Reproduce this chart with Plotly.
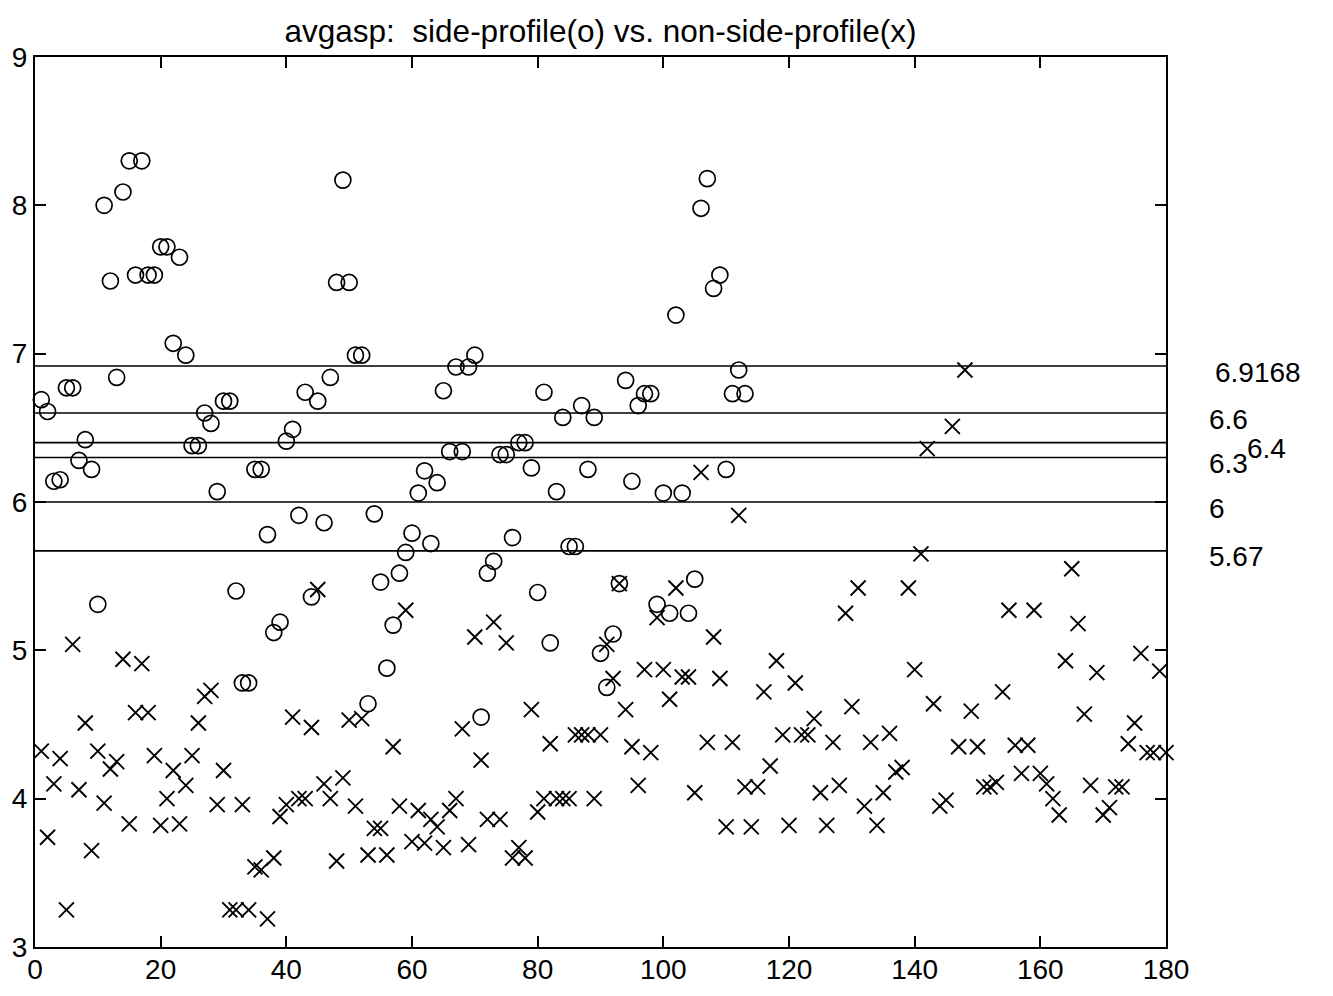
import plotly.graph_objects as go

# side-profile (circles), index 1..113
side_idx = list(range(1, 114))
side_vals = [
    6.69, 6.61, 6.14, 6.15, 6.77, 6.77, 6.28, 6.42, 6.22, 5.31,
    8.00, 7.49, 6.84, 8.09, 8.30, 7.53, 8.30, 7.53, 7.53, 7.72,
    7.72, 7.07, 7.65, 6.99, 6.38, 6.38, 6.60, 6.53, 6.07, 6.68,
    6.68, 5.40, 4.78, 4.78, 6.22, 6.22, 5.78, 5.12, 5.19, 6.41,
    6.49, 5.91, 6.74, 5.36, 6.68, 5.86, 6.84, 7.48, 8.17, 7.48,
    6.99, 6.99, 4.64, 5.92, 5.46, 4.88, 5.17, 5.52, 5.66, 5.79,
    6.06, 6.21, 5.72, 6.13, 6.75, 6.34, 6.91, 6.34, 6.91, 6.99,
    4.55, 5.52, 5.60, 6.32, 6.32, 5.76, 6.40, 6.40, 6.23, 5.39,
    6.74, 5.05, 6.07, 6.57, 5.70, 5.70, 6.65, 6.22, 6.57, 4.98,
    4.75, 5.11, 5.45, 6.82, 6.14, 6.65, 6.73, 6.73, 5.31, 6.06,
    5.25, 7.26, 6.06, 5.25, 5.48, 7.98, 8.18, 7.44, 7.53, 6.22,
    6.73, 6.89, 6.73,
]

# non-side-profile (crosses), index 1..180
non_idx = list(range(1, 181))
non_vals = [
    4.32, 3.74, 4.10, 4.27, 3.25, 5.04, 4.06, 4.51, 3.65, 4.32,
    3.97, 4.20, 4.25, 4.94, 3.83, 4.58, 4.91, 4.58, 4.29, 3.82,
    4.00, 4.19, 3.83, 4.09, 4.29, 4.51, 4.69, 4.73, 3.96, 4.19,
    3.25, 3.25, 3.96, 3.25, 3.54, 3.52, 3.19, 3.60, 3.88, 3.96,
    4.55, 4.00, 4.00, 4.48, 5.41, 4.10, 4.00, 3.58, 4.14, 4.53,
    3.95, 4.54, 3.62, 3.80, 3.80, 3.62, 4.35, 3.95, 5.27, 3.71,
    3.92, 3.70, 3.86, 3.81, 3.67, 3.92, 4.00, 4.47, 3.69, 5.09,
    4.26, 3.86, 5.19, 3.86, 5.05, 3.60, 3.67, 3.60, 4.60, 3.91,
    4.00, 4.37, 4.00, 4.00, 4.00, 4.43, 4.43, 4.43, 4.00, 4.43,
    5.04, 4.81, 5.45, 4.60, 4.35, 4.09, 4.87, 4.31, 5.22, 4.87,
    4.67, 5.42, 4.82, 4.82, 4.04, 6.20, 4.38, 5.09, 4.81, 3.81,
    4.38, 5.91, 4.08, 3.81, 4.08, 4.72, 4.22, 4.93, 4.43, 3.82,
    4.78, 4.43, 4.43, 4.54, 4.04, 3.82, 4.38, 4.09, 5.25, 4.62,
    5.42, 3.95, 4.38, 3.82, 4.04, 4.44, 4.18, 4.21, 5.42, 4.87,
    5.65, 6.36, 4.64, 3.95, 3.99, 6.51, 4.35, 6.89, 4.59, 4.35,
    4.08, 4.08, 4.11, 4.72, 5.27, 4.36, 4.17, 4.36, 5.27, 4.17,
    4.10, 4.00, 3.89, 4.93, 5.55, 5.18, 4.57, 4.09, 4.85, 3.89,
    3.94, 4.08, 4.08, 4.37, 4.51, 4.98, 4.31, 4.31, 4.86, 4.31,
]

# threshold lines and their labels
thresholds = [6.9168, 6.6, 6.4, 6.3, 6.0, 5.67]
threshold_labels = ["6.9168", "6.6", "6.4", "6.3", "6", "5.67"]
label_xpaper = [1.0416, 1.0363, 1.0698, 1.0363, 1.0363, 1.0363]

x_range = [0, 180]
y_range = [3, 9]
x_ticks = [0, 20, 40, 60, 80, 100, 120, 140, 160, 180]
y_ticks = [3, 4, 5, 6, 7, 8, 9]

FONT = "Liberation Sans, Arial, Helvetica, sans-serif"
TICK_SIZE = 28

fig = go.Figure()

for t in thresholds:
    fig.add_trace(go.Scatter(
        x=x_range, y=[t, t], mode="lines",
        line=dict(color="black", width=1.7),
        showlegend=False, hoverinfo="skip"))

fig.add_trace(go.Scatter(
    x=side_idx, y=side_vals, mode="markers",
    marker=dict(symbol="circle-open", size=16, color="black",
                line=dict(color="black", width=1.7)),
    showlegend=False, cliponaxis=False))

fig.add_trace(go.Scatter(
    x=non_idx, y=non_vals, mode="markers",
    marker=dict(symbol="x-thin-open", size=15, color="black",
                line=dict(color="black", width=1.9)),
    showlegend=False, cliponaxis=False))

for t, lab, xp in zip(thresholds, threshold_labels, label_xpaper):
    fig.add_annotation(
        x=xp, xref="paper", y=t, yref="y", text=lab, showarrow=False,
        xanchor="left", yanchor="middle", yshift=-6,
        font=dict(family=FONT, size=TICK_SIZE, color="black"))

fig.update_layout(
    width=1333, height=996,
    margin=dict(l=35, r=167, t=57, b=49, autoexpand=False),
    paper_bgcolor="white", plot_bgcolor="white",
    font=dict(family=FONT, size=TICK_SIZE, color="black"),
    title=dict(text="avgasp:  side-profile(o) vs. non-side-profile(x)",
               x=0.4505, xanchor="center", y=1 - 31 / 996, yanchor="middle",
               yref="container", automargin=False,
               font=dict(family=FONT, size=31.5, color="black")),
    showlegend=False,
)

fig.update_xaxes(
    range=x_range, tickvals=x_ticks, ticks="inside", ticklen=11, tickwidth=1.7,
    tickcolor="black", showline=True, linecolor="black", linewidth=2,
    mirror="ticks", showgrid=False, zeroline=False, automargin=False,
    ticklabelstandoff=-4,
    tickfont=dict(family=FONT, size=TICK_SIZE, color="black"))
fig.update_yaxes(
    range=y_range, tickvals=y_ticks, ticks="inside", ticklen=11, tickwidth=1.7,
    tickcolor="black", showline=True, linecolor="black", linewidth=2,
    mirror="ticks", showgrid=False, zeroline=False, automargin=False,
    tickfont=dict(family=FONT, size=TICK_SIZE, color="black"))

fig.write_html("out.html")
